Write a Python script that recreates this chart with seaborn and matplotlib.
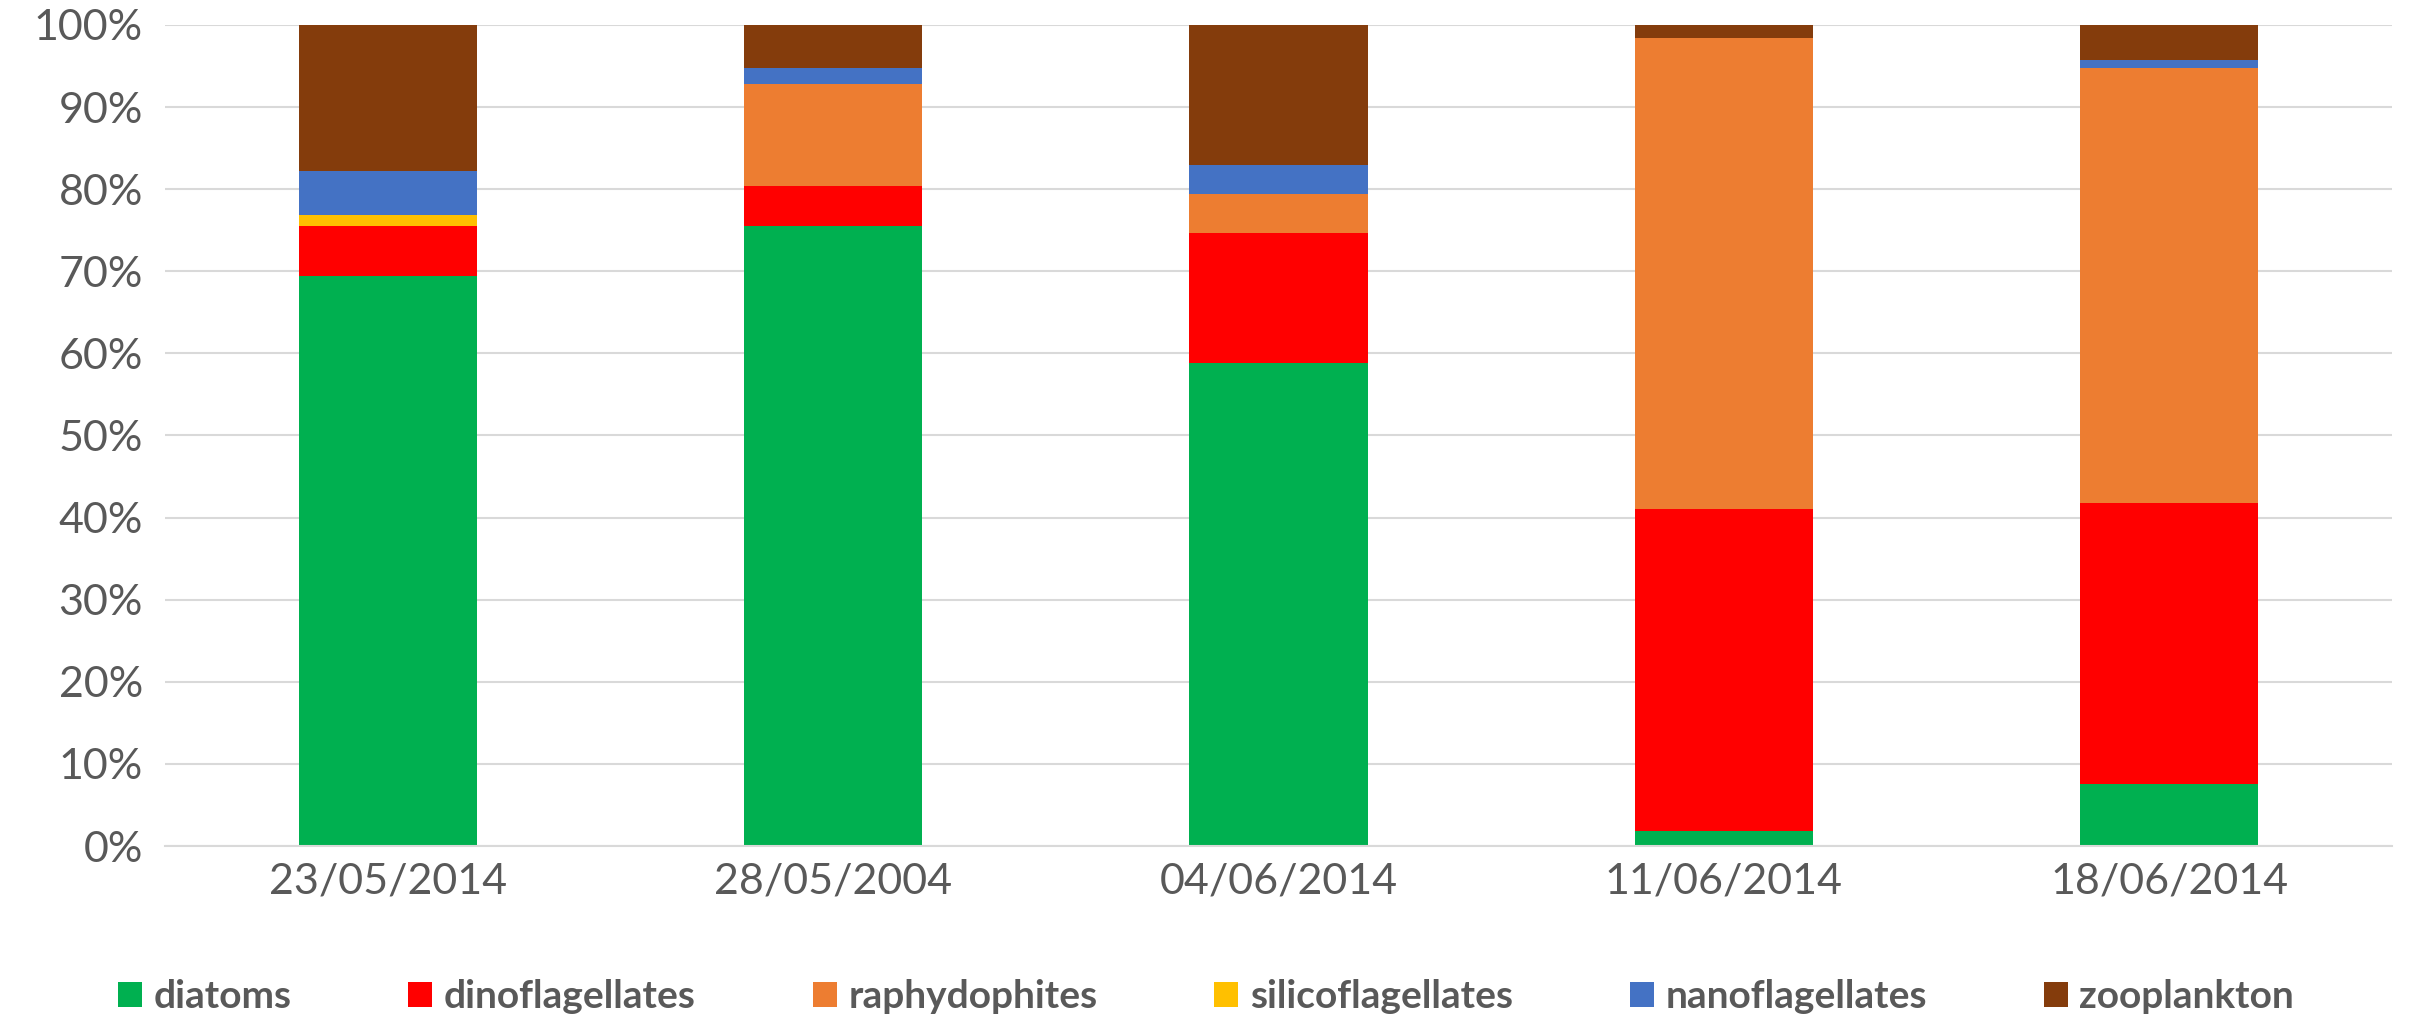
import matplotlib
matplotlib.use("Agg")
import matplotlib.pyplot as plt
import seaborn as sns
import numpy as np
import pandas as pd
from matplotlib.patches import Patch

dates = ["23/05/2014", "28/05/2004", "04/06/2014", "11/06/2014", "18/06/2014"]
series_names = ["diatoms", "dinoflagellates", "raphydophites", "silicoflagellates",
                "nanoflagellates", "zooplankton"]
diatoms = [69.4, 75.5, 58.8, 1.8, 7.6]
dinoflagellates = [6.1, 4.9, 15.9, 39.2, 34.2]
raphydophites = [0.0, 12.45, 4.75, 57.45, 53.0]
silicoflagellates = [1.3, 0.0, 0.0, 0.0, 0.0]
nanoflagellates = [5.4, 1.95, 3.55, 0.0, 0.9]
zooplankton = [17.8, 5.2, 17.0, 1.55, 4.3]
colors = ["#00B050", "#FF0000", "#ED7D31", "#FFC000", "#4472C4", "#843C0C"]
ytick_labels = [f"{v}%" for v in range(0, 101, 10)]

sns.set_theme(style="white")
plt.rcParams["font.family"] = ["Lato", "DejaVu Sans"]
text_color = "#595959"
grid_color = "#D9D9D9"

values = [diatoms, dinoflagellates, raphydophites, silicoflagellates, nanoflagellates, zooplankton]
df = pd.DataFrame({name: vals for name, vals in zip(series_names, values)})
df["date"] = dates
cum = df[series_names].cumsum(axis=1)

fig = plt.figure(figsize=(24.12, 10.17), dpi=100)
ax = fig.add_axes([165 / 2412, 1 - 846 / 1017, (2392 - 165) / 2412, (846 - 25) / 1017])

# draw from top of stack down so lower segments overlay
for name, col in reversed(list(zip(series_names, colors))):
    sns.barplot(x=df["date"], y=cum[name], color=col, width=0.4, ax=ax,
                saturation=1, linewidth=0, order=dates)

ax.set_ylim(0, 100)
ax.set_xlim(-0.5, 4.5)
ax.set_yticks(range(0, 101, 10))
ax.set_yticklabels(ytick_labels)
ax.set_xlabel("")
ax.set_ylabel("")
ax.set_axisbelow(True)
ax.yaxis.grid(True, color=grid_color, linewidth=1.5)
ax.xaxis.grid(False)
for s in ["top", "right", "left"]:
    ax.spines[s].set_visible(False)
ax.spines["bottom"].set_color(grid_color)
ax.spines["bottom"].set_linewidth(1.5)

ax.tick_params(axis="y", length=0, pad=16, labelsize=31, labelcolor=text_color)
ax.tick_params(axis="x", which="major", length=0, pad=12, labelsize=31, labelcolor=text_color)
ax.set_xticks(np.arange(-0.5, 5.0, 1.0), minor=True)
ax.tick_params(axis="x", which="minor", length=11, width=1.5, color=grid_color, direction="out")

handles = [Patch(facecolor=c, edgecolor="none", label=n) for n, c in zip(series_names, colors)]
leg = fig.legend(handles=handles, loc="center", bbox_to_anchor=(0.5, 0.02),
                 bbox_transform=fig.transFigure, ncol=6, frameon=False,
                 prop={"size": 28, "weight": "bold"}, handlelength=0.62, handleheight=0.62,
                 handletextpad=0.3, columnspacing=3.0)
for t in leg.get_texts():
    t.set_color(text_color)

fig.savefig("out.png", dpi=100)
